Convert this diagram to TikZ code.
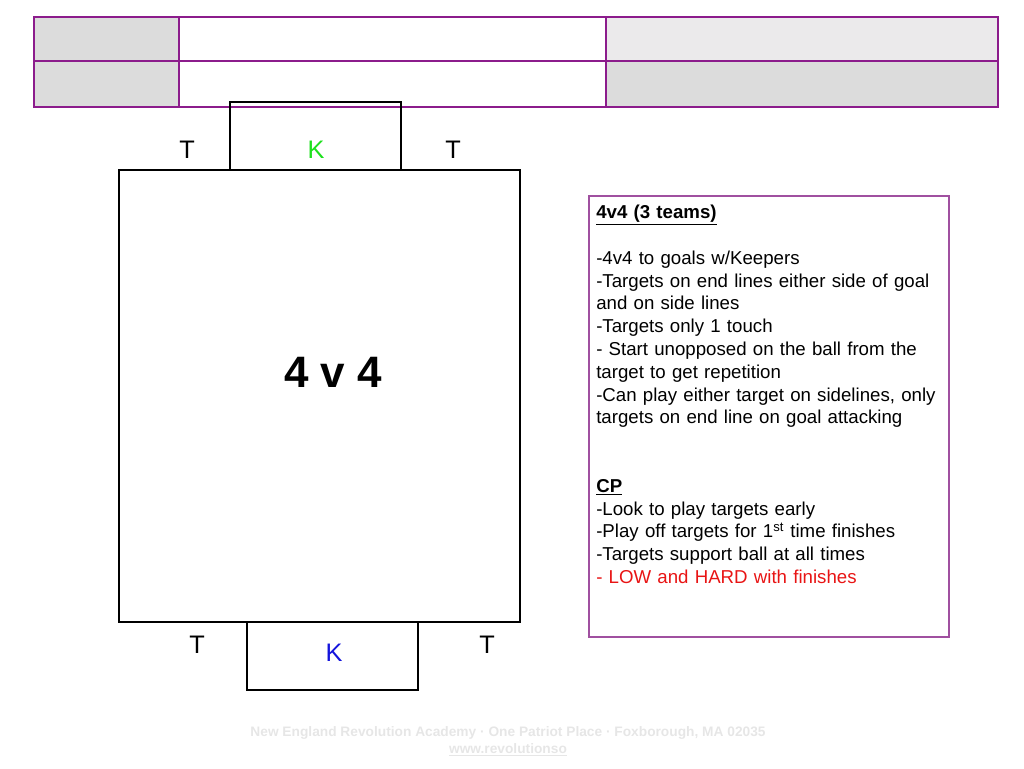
\documentclass[tikz,border=0pt]{standalone}
\usepackage{fontspec}
\setmainfont{Liberation Sans}
\definecolor{tablepurple}{HTML}{8C1C8C}
\definecolor{notespurple}{HTML}{A050A0}
\definecolor{cellgray}{HTML}{DCDCDC}
\definecolor{cellgraylight}{HTML}{EBEAEB}
\definecolor{keepergreen}{HTML}{1EE01E}
\definecolor{keeperblue}{HTML}{1414DC}
\definecolor{finishred}{HTML}{E81414}
\definecolor{footergray}{HTML}{E6E6E6}
\tikzset{
    cell/.style={draw=tablepurple, line width=1.5pt},
    pitch line/.style={draw=black, line width=0.8pt},
    player/.style={inner sep=0pt, font=\fontsize{19}{22}\selectfont},
    notes/.style={inner sep=0pt, align=left, text width=280pt,
        font=\fontsize{14}{17.1}\selectfont},
    footer/.style={inner sep=0pt, text=footergray,
        font=\bfseries\fontsize{10.3}{12}\selectfont},
}

\begin{document}
\begin{tikzpicture}[x=0.75pt,y=-0.75pt]
    \useasboundingbox (0,0) rectangle (1024,768);
    % header table
    \fill[cellgray] (34,17) rectangle (179,107);
    \fill[cellgraylight] (606,17) rectangle (998,61);
    \fill[cellgray] (606,61) rectangle (998,107);
    \draw[cell] (34,17) rectangle (998,107);
    \draw[cell] (34,61) -- (998,61);
    \draw[cell] (179,17) -- (179,107);
    \draw[cell] (606,17) -- (606,107);
    % pitch with both goals
    \draw[pitch line] (119,170) rectangle (520,622);
    \draw[pitch line] (230,170) -- (230,102) -- (401,102) -- (401,170);
    \draw[pitch line] (247,622) -- (247,690) -- (418,690) -- (418,622);
    \node[player] (t1) at (187,150) {T};
    \node[player, text=keepergreen] (k1) at (316,150) {K};
    \node[player] (t2) at (453,150) {T};
    \node[player] (t3) at (197,645) {T};
    \node[player, text=keeperblue] (k2) at (334,653) {K};
    \node[player] (t4) at (487,645) {T};
    \node[inner sep=0pt, font=\bfseries\fontsize{33}{36}\selectfont] (game) at (333,372) {4 v 4};
    % coaching notes
    \draw[notespurple, line width=0.8pt] (589,196) rectangle (949,637);
    \node[notes, anchor=north west] (notes) at (596,205) {%
        \underline{\textbf{4v4 (3 teams)}}\\[17.1pt]
        -4v4 to goals w/Keepers\\
        -Targets on end lines either side of goal\\
        and on side lines\\
        -Targets only 1 touch\\
        - Start unopposed on the ball from the\\
        target to get repetition\\
        -Can play either target on sidelines, only\\
        targets on end line on goal attacking\\[34.2pt]
        \underline{\textbf{CP}}\\
        -Look to play targets early\\
        -Play off targets for 1\textsuperscript{st} time finishes\\
        -Targets support ball at all times\\
        \textcolor{finishred}{- LOW and HARD with finishes}};
    % footer
    \node[footer] (address) at (508,733) {New England Revolution Academy · One Patriot Place · Foxborough, MA 02035};
    \node[footer] (web) at (508,750) {\underline{www.revolutionso}};
\end{tikzpicture}
\end{document}
